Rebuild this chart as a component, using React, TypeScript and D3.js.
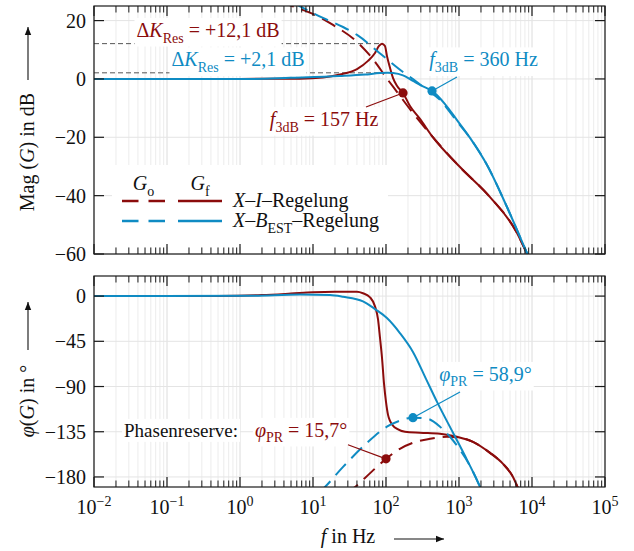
import React, { useEffect, useRef } from "react";
import * as d3 from "d3";

const RED = "#8b0c0c";
const BLUE = "#0f8bc3";
const FONT = "'Liberation Serif', 'Times New Roman', serif";

type Pt = [number, number];

// magnitude (Hz, dB)
const magGoXI: Pt[] = [
  [3.5, 26.6], [5.15, 25.0], [11.35, 21.6], [18.8, 18.5], [40.1, 12.7], [64.3, 7.2],
  [106, -0.3], [142, -4.5], [234, -11.7], [427, -19.6], [1032, -30.2], [2661, -40.5],
  [6237, -52.8], [8552, -60], [9500, -62.5],
];
const magGfXI: Pt[] = [
  [0.01, 0], [1, 0], [6.6, 0.1], [13.7, 0.5], [23.4, 1.5], [40.1, 3.4], [56.7, 6.2],
  [70.7, 8.9], [80.2, 11.3], [88.1, 12.1], [96.8, 11.3], [103, 7.9], [113.5, 3.8],
  [125, 0.3], [142, -2.4], [171, -4.8], [213, -9.3], [292, -13.7], [427, -19.6],
  [1032, -30.2], [2661, -40.5], [6237, -52.8], [8552, -60], [9500, -62.5],
];
const magGoB: Pt[] = [
  [5.5, 26], [6.64, 24.9], [13.7, 20.9], [25.8, 17.8], [40.1, 15.1], [88.1, 8.2],
  [171, 2.4], [234, 0], [321, -2.7], [550, -7.2], [939, -14.6], [1416, -20.2],
  [2421, -29.5], [4545, -43.9], [8552, -59.7], [10000, -63.5],
];
const magGfB: Pt[] = [
  [0.01, 0], [1.37, 0], [4.84, 0.4], [23.4, 1.0], [51.5, 1.5], [82.8, 2.0], [105, 2.1],
  [125, 2.0], [171, 1.2], [234, -0.7], [311, -2.4], [427, -4.1], [643, -8.6],
  [939, -14.1], [1416, -20.2], [2421, -29.5], [4545, -43.9], [8552, -59.7], [10000, -63.5],
];

// phase (Hz, deg)
const phGoXI: Pt[] = [
  [27.4, -195], [37.6, -190], [51.5, -181], [100, -162], [155, -152], [234, -146],
  [401, -142], [685, -140], [1032, -141], [1555, -145], [2661, -156], [4008, -167],
  [5495, -180], [6430, -191], [7000, -197],
];
const phGfXI: Pt[] = [
  [0.01, 0], [0.5, 0.2], [2, 1], [5, 2.5], [10, 3.8], [20, 4.3], [40, 4.3], [48.4, 2.8],
  [60.4, -1.2], [70.7, -10.2], [77.7, -23], [82.8, -41.7], [88.2, -61.6], [94, -87.4],
  [100, -105.3], [106.6, -118.2], [113.5, -124.2], [125.3, -129.1], [142, -132.1],
  [182, -135], [292, -136], [550, -137], [939, -140], [1555, -145], [2661, -156],
  [4008, -167], [5495, -180], [6430, -191], [7000, -197],
];
const phGoB: Pt[] = [
  [12.5, -195], [14.6, -190], [25.8, -170], [55, -146], [103, -130], [155, -124],
  [234, -121], [365, -122], [550, -130], [753, -140], [1030, -153], [1416, -169],
  [1940, -190], [2100, -196],
];
const phGfB: Pt[] = [
  [0.01, 0], [1.37, 0.3], [6.6, 1.5], [17.1, 1], [25.8, -0.7], [48.4, -5.2], [70.7, -12.9],
  [103, -21.9], [155, -36.8], [234, -55.6], [353, -82.4], [500, -105.3], [828, -136],
  [1288, -163], [1940, -190], [2100, -196],
];

const f3dbMarks = [{ f: 171, v: -4.8, c: RED }, { f: 427, v: -4.1, c: BLUE }];
const pmMarks = [{ f: 100, v: -162, c: RED }, { f: 234, v: -121, c: BLUE }];
const resPeaks = [12.1, 2.1];
const resEndF = 88;

const magTicks = [20, 0, -20, -40, -60];
const phaseTicks = [0, -45, -90, -135, -180];
const decades = [-2, -1, 0, 1, 2, 3, 4, 5];

type Seg = { t: string; i?: boolean; sub?: boolean; sup?: boolean };

export default function App() {
  const ref = useRef<SVGSVGElement>(null);

  useEffect(() => {
    const svg = d3.select(ref.current);
    svg.selectAll("*").remove();

    const x = d3.scaleLog().domain([1e-2, 1e5]).range([94, 605]);
    const yMag = d3.scaleLinear().domain([-60, 25]).range([254, 6]);
    const yPh = d3.scaleLinear().domain([-190, 20]).range([487, 276]);

    const rich = (g: any, px: number, py: number, segs: Seg[], opt: any = {}) => {
      const size = opt.size ?? 20;
      const t = g.append("text")
        .attr("x", px).attr("y", py)
        .attr("text-anchor", opt.anchor ?? "start")
        .attr("fill", opt.fill ?? "#111")
        .attr("transform", opt.transform ?? null)
        .style("font-family", FONT)
        .style("font-size", size + "px")
        .style("white-space", "pre");
      let shift = 0;
      segs.forEach(s => {
        const target = s.sub ? size * 0.28 : s.sup ? -size * 0.4 : 0;
        const ts = t.append("tspan").attr("dy", target - shift).text(s.t);
        shift = target;
        if (s.sub || s.sup) ts.style("font-size", size * 0.7 + "px");
        if (s.i) ts.style("font-style", "italic");
      });
      if (opt.bg) {
        const b = t.node().getBBox();
        g.insert("rect", () => t.node())
          .attr("x", b.x - 2).attr("y", b.y - 1)
          .attr("width", b.width + 4).attr("height", b.height + 2)
          .attr("fill", "white");
      }
      return t;
    };

    const minors: number[] = [];
    for (let k = -2; k < 5; k++) for (let m = 2; m <= 9; m++) minors.push(m * Math.pow(10, k));
    const majors = decades.map(d => Math.pow(10, d));

    const panels = [
      { id: "mag", y: yMag, ticks: magTicks },
      { id: "ph", y: yPh, ticks: phaseTicks },
    ];

    const defs = svg.append("defs");
    panels.forEach(p => {
      const [b, t] = p.y.range();
      defs.append("clipPath").attr("id", "clip-" + p.id).append("rect")
        .attr("x", 94).attr("y", t).attr("width", 511).attr("height", b - t);

      const g = svg.append("g");
      // Gitter
      g.selectAll(".mn").data(minors).enter().append("line")
        .attr("x1", d => x(d)).attr("x2", d => x(d)).attr("y1", t).attr("y2", b)
        .attr("stroke", "#ececec").attr("stroke-width", 1);
      g.selectAll(".mj").data(majors).enter().append("line")
        .attr("x1", d => x(d)).attr("x2", d => x(d)).attr("y1", t).attr("y2", b)
        .attr("stroke", "#dcdcdc").attr("stroke-width", 1);
      g.selectAll(".hy").data(p.ticks).enter().append("line")
        .attr("x1", 94).attr("x2", 605).attr("y1", d => p.y(d)).attr("y2", d => p.y(d))
        .attr("stroke", "#e4e4e4").attr("stroke-width", 1);
    });

    // Resonanz-Linien
    const gm = svg.append("g");
    resPeaks.forEach(v => {
      gm.append("line")
        .attr("x1", x(1e-2)).attr("x2", x(resEndF))
        .attr("y1", yMag(v)).attr("y2", yMag(v))
        .attr("stroke", "#555").attr("stroke-width", 1).attr("stroke-dasharray", "5,3");
    });

    // Legende (weißer Kasten)
    const lg = svg.append("g");
    lg.append("rect").attr("x", 112).attr("y", 165).attr("width", 276).attr("height", 82).attr("fill", "white");
    rich(lg, 143.5, 190, [{ t: "G", i: true }, { t: "o", sub: true }], { anchor: "middle" });
    rich(lg, 200, 190, [{ t: "G", i: true }, { t: "f", sub: true }], { anchor: "middle" });
    [{ c: RED, y: 201 }, { c: BLUE, y: 221 }].forEach(r => {
      lg.append("line").attr("x1", 122).attr("x2", 165).attr("y1", r.y).attr("y2", r.y)
        .attr("stroke", r.c).attr("stroke-width", 2.4).attr("stroke-dasharray", "16.5,10");
      lg.append("line").attr("x1", 178).attr("x2", 222).attr("y1", r.y).attr("y2", r.y)
        .attr("stroke", r.c).attr("stroke-width", 2.4);
    });
    rich(lg, 233, 207, [{ t: "X", i: true }, { t: "–" }, { t: "I", i: true }, { t: "–Regelung" }]);
    rich(lg, 233, 227, [{ t: "X", i: true }, { t: "–" }, { t: "B", i: true }, { t: "EST", sub: true }, { t: "–Regelung" }]);

    // Kurven
    const curve = (id: string, y: any, data: Pt[], color: string, dashed: boolean) => {
      const line = d3.line<Pt>().x(d => x(d[0])).y(d => y(d[1])).curve(d3.curveMonotoneX);
      svg.append("path").attr("d", line(data)).attr("clip-path", `url(#clip-${id})`)
        .attr("fill", "none").attr("stroke", color).attr("stroke-width", 2)
        .attr("stroke-dasharray", dashed ? "15,8" : null);
    };
    curve("mag", yMag, magGfXI, RED, false);
    curve("mag", yMag, magGoXI, RED, true);
    curve("mag", yMag, magGfB, BLUE, false);
    curve("mag", yMag, magGoB, BLUE, true);
    curve("ph", yPh, phGfXI, RED, false);
    curve("ph", yPh, phGoXI, RED, true);
    curve("ph", yPh, phGfB, BLUE, false);
    curve("ph", yPh, phGoB, BLUE, true);

    // Annotationen oben
    const ga = svg.append("g");
    rich(ga, x(0.365), yMag(14.4), [{ t: "Δ" }, { t: "K", i: true }, { t: "Res", sub: true }, { t: " = +12,1 dB" }], { anchor: "middle", fill: RED, bg: true });
    rich(ga, x(0.94), yMag(4.3), [{ t: "Δ" }, { t: "K", i: true }, { t: "Res", sub: true }, { t: " = +2,1 dB" }], { anchor: "middle", fill: BLUE, bg: true });
    rich(ga, x(2168), yMag(4.3), [{ t: "f", i: true }, { t: "3dB", sub: true }, { t: " = 360 Hz" }], { anchor: "middle", fill: BLUE, bg: true });
    rich(ga, x(14.2), yMag(-16.1), [{ t: "f", i: true }, { t: "3dB", sub: true }, { t: " = 157 Hz" }], { anchor: "middle", fill: RED, bg: true });
    ga.append("line").attr("x1", x(53.2)).attr("y1", yMag(-9.6)).attr("x2", x(f3dbMarks[0].f)).attr("y2", yMag(f3dbMarks[0].v))
      .attr("stroke", RED).attr("stroke-width", 1.2);
    ga.append("line").attr("x1", x(939)).attr("y1", yMag(0.7)).attr("x2", x(f3dbMarks[1].f)).attr("y2", yMag(f3dbMarks[1].v))
      .attr("stroke", BLUE).attr("stroke-width", 1.2);
    f3dbMarks.forEach(m => ga.append("circle").attr("cx", x(m.f)).attr("cy", yMag(m.v)).attr("r", 4.6).attr("fill", m.c));

    // Annotationen unten
    rich(ga, x(2307), yPh(-84.4), [{ t: "φ", i: true }, { t: "PR", sub: true }, { t: " = 58,9°" }], { anchor: "middle", fill: BLUE, bg: true });
    rich(ga, x(0.0258), yPh(-140.1), [{ t: "Phasenreserve:" }], { size: 19, bg: true });
    rich(ga, x(1.6), yPh(-140.1), [{ t: "φ", i: true }, { t: "PR", sub: true }, { t: " = 15,7°" }], { fill: RED, bg: true });
    ga.append("line").attr("x1", x(30.1)).attr("y1", yPh(-148)).attr("x2", x(pmMarks[0].f)).attr("y2", yPh(pmMarks[0].v))
      .attr("stroke", RED).attr("stroke-width", 1.2);
    ga.append("line").attr("x1", x(1032)).attr("y1", yPh(-95.4)).attr("x2", x(pmMarks[1].f)).attr("y2", yPh(pmMarks[1].v))
      .attr("stroke", BLUE).attr("stroke-width", 1.2);
    pmMarks.forEach(m => ga.append("circle").attr("cx", x(m.f)).attr("cy", yPh(m.v)).attr("r", 4.6).attr("fill", m.c));

    // Rahmen, Ticks, Beschriftung
    panels.forEach(p => {
      const [b, t] = p.y.range();
      const g = svg.append("g");
      g.append("rect").attr("x", 94).attr("y", t).attr("width", 511).attr("height", b - t)
        .attr("fill", "none").attr("stroke", "#1a1a1a").attr("stroke-width", 1.2);
      [t, b].forEach((edge, i) => {
        const dir = i === 0 ? 1 : -1;
        g.selectAll(null).data(minors).enter().append("line")
          .attr("x1", d => x(d)).attr("x2", d => x(d)).attr("y1", edge).attr("y2", edge + dir * 6.5)
          .attr("stroke", "#1a1a1a").attr("stroke-width", 1);
        g.selectAll(null).data(majors).enter().append("line")
          .attr("x1", d => x(d)).attr("x2", d => x(d)).attr("y1", edge).attr("y2", edge + dir * 10)
          .attr("stroke", "#1a1a1a").attr("stroke-width", 1.2);
      });
      g.selectAll(null).data(p.ticks).enter().append("line")
        .attr("x1", 94).attr("x2", 104).attr("y1", d => p.y(d)).attr("y2", d => p.y(d))
        .attr("stroke", "#1a1a1a").attr("stroke-width", 1.2);
      g.selectAll(null).data(p.ticks).enter().append("line")
        .attr("x1", 595).attr("x2", 605).attr("y1", d => p.y(d)).attr("y2", d => p.y(d))
        .attr("stroke", "#1a1a1a").attr("stroke-width", 1.2);
      p.ticks.forEach(v => {
        rich(g, 86, p.y(v) + 7, [{ t: v < 0 ? "−" + Math.abs(v) : String(v) }], { anchor: "end" });
      });
    });

    decades.forEach(d => {
      rich(svg, x(Math.pow(10, d)), 514, [{ t: "10" }, { t: d < 0 ? "−" + Math.abs(d) : String(d), sup: true }], { anchor: "middle" });
    });

    const arrow = (x1: number, y1: number, x2: number, y2: number) => {
      svg.append("line").attr("x1", x1).attr("y1", y1).attr("x2", x2).attr("y2", y2)
        .attr("stroke", "#111").attr("stroke-width", 1.1);
      const ang = Math.atan2(y2 - y1, x2 - x1);
      const l = 8, w = 3.2;
      const p1 = [x2 - l * Math.cos(ang) + w * Math.sin(ang), y2 - l * Math.sin(ang) - w * Math.cos(ang)];
      const p2 = [x2 - l * Math.cos(ang) - w * Math.sin(ang), y2 - l * Math.sin(ang) + w * Math.cos(ang)];
      svg.append("path").attr("d", `M${x2},${y2}L${p1[0]},${p1[1]}L${p2[0]},${p2[1]}Z`).attr("fill", "#111");
    };

    rich(svg, 0, 0, [{ t: "Mag (" }, { t: "G", i: true }, { t: ") in dB" }], { anchor: "middle", transform: "translate(34,152) rotate(-90)" });
    arrow(28, 80, 28, 27);
    rich(svg, 0, 0, [{ t: "φ", i: true }, { t: "(" }, { t: "G", i: true }, { t: ") in °" }], { anchor: "middle", transform: "translate(34,401) rotate(-90)" });
    arrow(28, 350, 28, 302);
    rich(svg, 348, 543, [{ t: "f", i: true }, { t: " in Hz" }], { anchor: "middle" });
    arrow(394, 539, 444, 539);
  }, []);

  return (
    <svg ref={ref} width={634} height={551}
      style={{ position: "absolute", left: 0, top: 0, background: "white" }}></svg>
  );
}
